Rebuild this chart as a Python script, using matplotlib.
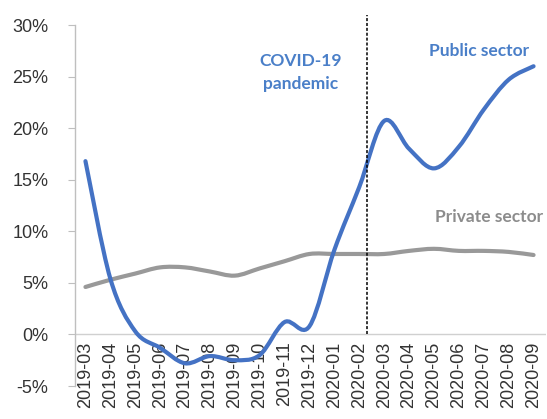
import numpy as np
import matplotlib.pyplot as plt
from matplotlib.path import Path
from matplotlib.patches import PathPatch

months = ['2019-03', '2019-04', '2019-05', '2019-06', '2019-07', '2019-08', '2019-09',
          '2019-10', '2019-11', '2019-12', '2020-01', '2020-02', '2020-03', '2020-04',
          '2020-05', '2020-06', '2020-07', '2020-08', '2020-09']
public = [16.8, 5.4, 0.3, -1.3, -2.8, -2.1, -2.5, -2.0, 1.2, 0.8, 8.2, 14.3,
          20.7, 18.0, 16.1, 18.2, 21.8, 24.7, 26.0]
private = [4.6, 5.3, 5.9, 6.5, 6.5, 6.1, 5.7, 6.4, 7.1, 7.8, 7.8, 7.8,
           7.8, 8.1, 8.3, 8.1, 8.1, 8.0, 7.7]
yticks = [-5, 0, 5, 10, 15, 20, 25, 30]


def smooth_path(xs, ys):
    # cubic bezier through the points, like Excel's smoothed line
    pts = np.column_stack([xs, ys]).astype(float)
    verts = [pts[0]]
    codes = [Path.MOVETO]
    n = len(pts)
    for i in range(n - 1):
        p0 = pts[max(i - 1, 0)]
        p1 = pts[i]
        p2 = pts[i + 1]
        p3 = pts[min(i + 2, n - 1)]
        c1 = p1 + (p2 - p0) / 6.0
        c2 = p2 - (p3 - p1) / 6.0
        verts += [c1, c2, p2]
        codes += [Path.CURVE4] * 3
    return Path(verts, codes)


fig = plt.figure(figsize=(5.47, 4.19), dpi=100)
ax = fig.add_axes([75 / 547, 1 - 386 / 419, 471 / 547, 361 / 419])

x = np.arange(len(months))
ax.add_patch(PathPatch(smooth_path(x, private), facecolor='none',
                       edgecolor='#999999', lw=3.0, capstyle='round', zorder=3))
ax.add_patch(PathPatch(smooth_path(x, public), facecolor='none',
                       edgecolor='#4472c4', lw=3.0, capstyle='round', zorder=4))
# invisible lines so autoscale knows the data
ax.plot(x, public, alpha=0)
ax.plot(x, private, alpha=0)

ax.axhline(0, color='#d0d0d0', lw=1.0, zorder=1)
ax.plot([11.3, 11.3], [0, 31], color='black', lw=1.1, ls=(0, (2, 1.2)),
        zorder=5, clip_on=False)

ax.set_xlim(-0.42, 18.5)
ax.set_ylim(-5, 30)
ax.set_yticks(yticks)
ax.set_yticklabels([f'{v}%' for v in yticks], fontsize=13, color='#333333',
                   family='Liberation Sans')
ax.set_xticks([])
for i, m in enumerate(months):
    ax.text(i, -0.7, m, rotation=90, ha='center', va='top', fontsize=13,
            color='#333333', family='Liberation Sans', clip_on=False)

for s in ['top', 'right', 'bottom']:
    ax.spines[s].set_visible(False)
ax.spines['left'].set_color('#bfbfbf')
ax.spines['left'].set_linewidth(1.0)
ax.tick_params(axis='y', direction='out', length=5, color='#bfbfbf', pad=14)

ax.text(8.63, 25.4, 'COVID-19\npandemic', color='#4a7fc8', fontsize=12.5,
        ha='center', va='center', family='Lato', fontweight='bold', linespacing=1.5)
ax.text(15.8, 27.5, 'Public sector', color='#4a7fc8', fontsize=12.5,
        ha='center', va='center', family='Lato', fontweight='bold')
ax.text(16.2, 11.4, 'Private sector', color='#8c8c8c', fontsize=12.5,
        ha='center', va='center', family='Lato', fontweight='bold')

fig.savefig('out.png', dpi=100)
